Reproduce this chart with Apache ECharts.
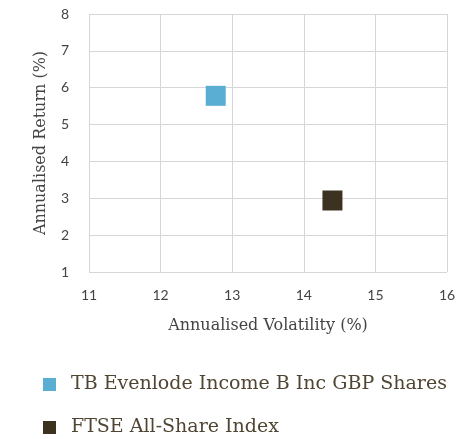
<!DOCTYPE html>
<html>
<head>
<meta charset="utf-8">
<script src="https://cdn.jsdelivr.net/npm/echarts@6/dist/echarts.min.js"></script>
<style>
  html, body { margin: 0; padding: 0; background: #fff; }
  #main { width: 468px; height: 439px; }
</style>
</head>
<body>
<div id="main"></div>
<script>
var chartDom = document.getElementById('main');
var myChart = echarts.init(chartDom);
var option;

// Series names shown in the legend
const seriesNames = ['TB Evenlode Income B Inc GBP Shares', 'FTSE All-Share Index'];
// [volatility, return] for each series
const fundPoint = [12.77, 5.78];
const indexPoint = [14.40, 2.94];
const seriesColors = ['#5aadd3', '#3b3320'];

const labelFont = 'Lato, "Open Sans", sans-serif';
const nameFont = '"DejaVu Serif", serif';

// one legend block per row, stacked under the plot
const legendTops = [370, 413];
const legends = seriesNames.map(function (name, idx) {
  return {
    left: 38,
    top: legendTops[idx],
    itemWidth: 13,
    itemHeight: 13,
    icon: 'rect',
    textStyle: { fontFamily: nameFont, fontSize: 19, color: '#4f4532', padding: [0, 0, 0, 10] },
    data: [name]
  };
});

option = {
  animation: false,
  grid: {
    left: 89,
    right: 21,
    top: 14,
    bottom: 167
  },
  xAxis: {
    type: 'value',
    min: 11,
    max: 16,
    interval: 1,
    name: 'Annualised Volatility (%)',
    nameLocation: 'middle',
    nameGap: 46,
    nameTextStyle: { fontFamily: nameFont, fontSize: 16, color: '#444' },
    axisLine: { show: false },
    axisTick: { show: false },
    axisLabel: { margin: 16, fontFamily: labelFont, fontSize: 14, color: '#444' },
    splitLine: { lineStyle: { color: '#d6d6d6', width: 1 } }
  },
  yAxis: {
    type: 'value',
    min: 1,
    max: 8,
    interval: 1,
    name: 'Annualised Return (%)',
    nameLocation: 'middle',
    nameGap: 40,
    nameTextStyle: { fontFamily: nameFont, fontSize: 16, color: '#444' },
    axisLine: { show: false },
    axisTick: { show: false },
    axisLabel: { margin: 20, fontFamily: labelFont, fontSize: 14, color: '#444' },
    splitLine: { lineStyle: { color: '#d6d6d6', width: 1 } }
  },
  legend: legends,
  series: [
    {
      name: seriesNames[0],
      type: 'scatter',
      symbol: 'rect',
      symbolSize: 20,
      itemStyle: { color: seriesColors[0], opacity: 1 },
      data: [fundPoint]
    },
    {
      name: seriesNames[1],
      type: 'scatter',
      symbol: 'rect',
      symbolSize: 20,
      itemStyle: { color: seriesColors[1], opacity: 1 },
      data: [indexPoint]
    }
  ]
};

option && myChart.setOption(option);
</script>
</body>
</html>
